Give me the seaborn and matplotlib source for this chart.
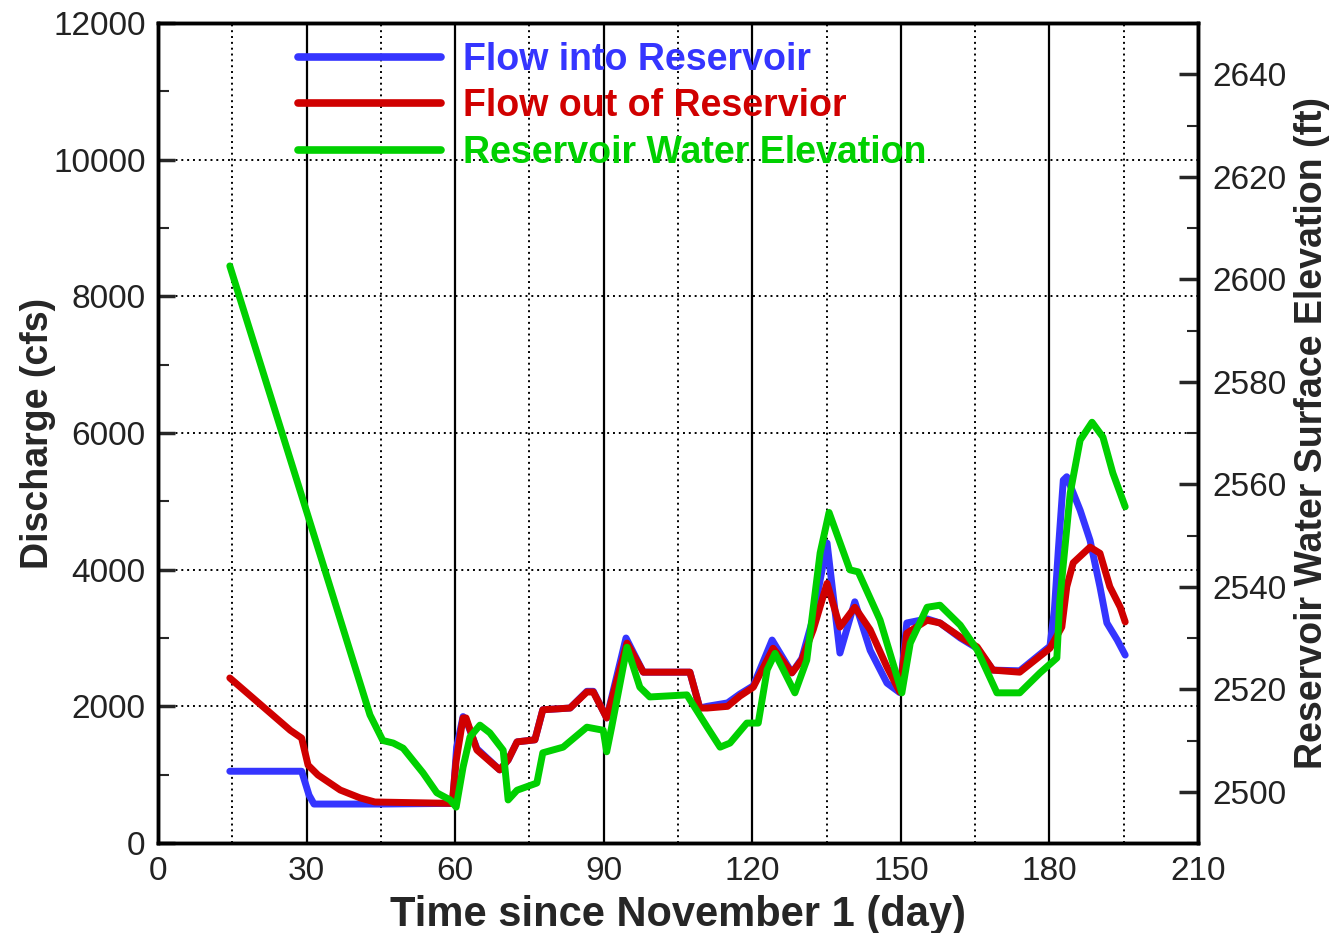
import numpy as np
import pandas as pd
import matplotlib
matplotlib.use("Agg")
import matplotlib.pyplot as plt
from matplotlib.ticker import MultipleLocator
import seaborn as sns

# ---------------- data ----------------
inflow_day = [14.5, 29, 30.5, 31.5, 45, 59.5, 60.3, 61.6, 62.2, 64.4, 69, 70.7, 72.5, 76.1,
              77.7, 83.2, 86.6, 87.9, 90.6, 94.5, 98, 107.4, 109.4, 110.9, 115, 117.5, 120.2,
              124.0, 128, 130, 132.3, 135.1, 137.7, 140.7, 143.8, 147.2, 149.8, 151.2, 155.3,
              157.9, 162, 165.4, 168.6, 174, 180.1, 181, 181.8, 182.8, 183.5, 186.2, 188.2,
              190.2, 191.6, 193.7, 195.3]
inflow_cfs = [1050, 1050, 700, 570, 570, 580, 1400, 1850, 1800, 1380, 1070, 1215, 1480, 1510,
              1950, 1975, 2220, 2220, 1830, 3000, 2500, 2500, 1975, 2000, 2050, 2180, 2300,
              2970, 2490, 2700, 3300, 4390, 2780, 3530, 2820, 2340, 2200, 3220, 3280,
              3220, 3000, 2850, 2530, 2520, 2880, 3410, 4290, 5310, 5360, 4870, 4430,
              3750, 3220, 2970, 2750]

outflow_day = [14.5, 26.7, 29, 30.3, 32.3, 36.8, 40.8, 43.8, 59.4, 60.2, 61.6, 62.2, 64.4, 69,
               70.7, 72.5, 76.1, 77.7, 83.2, 86.6, 87.9, 90.6, 94.7, 98, 107.4, 109.4, 110.9,
               115, 117.5, 120.2, 124.2, 128, 130, 132.3, 135.1, 137.7, 140.7, 143.8, 147.2,
               149.8, 151.2, 155.3, 157.9, 162, 165.4, 168.6, 174, 180.1, 182.5, 183.5, 184.8,
               188.2, 190.2, 192.2, 194.3, 195.3]
outflow_cfs = [2415, 1650, 1535, 1140, 995, 775, 660, 600, 580, 1200, 1830, 1830, 1360, 1070,
               1215, 1480, 1510, 1950, 1975, 2210, 2210, 1830, 2925, 2500, 2500, 1975, 1975,
               2000, 2150, 2280, 2850, 2490, 2680, 3120, 3800, 3160, 3450, 3120, 2575,
               2210, 3070, 3260, 3220, 3015, 2870, 2530, 2500, 2850, 3160, 3750, 4100,
               4330, 4240, 3750, 3450, 3235]

elev_day = [14.5, 30.1, 35.1, 38.8, 42.8, 45.4, 47.5, 49.5, 53.5, 56.3, 59, 60.2, 61.6, 63, 65,
            67, 69.7, 70.7, 72.5, 76.5, 77.7, 81.8, 86.6, 89.9, 90.6, 91.6, 94.7, 97.3, 99.3,
            106.8, 110.9, 113.5, 115.5, 118.9, 121.2, 123, 124.6, 128.6, 131, 133.7, 135.5,
            139.7, 141.4, 145.8, 150.2, 151.9, 155.3, 157.9, 162, 165.4, 169.4, 174, 178.1,
            181.5, 182.1, 184.2, 186.2, 188.6, 190.8, 192.8, 195.3]
elev_ft = [2602.6, 2554.4, 2538.9, 2527.4, 2515.0, 2510, 2509.5, 2508.5, 2503.7, 2499.8, 2498.4,
           2497, 2504.8, 2510.7, 2513, 2511.5, 2508.1, 2498.4, 2500.3, 2501.7, 2507.6, 2508.7,
           2512.6, 2512, 2507.8, 2512.6, 2528.2, 2520.4, 2518.5, 2518.9, 2512.6, 2508.7,
           2509.5, 2513.4, 2513.4, 2523.8, 2527, 2519.3, 2525.7, 2546.6, 2554.5, 2543.3,
           2542.9, 2533.5, 2519.3, 2529, 2536, 2536.4, 2532.5, 2527.7, 2519.3, 2519.3,
           2523.2, 2526.1, 2537.4, 2558.3, 2568.6, 2572.1, 2569.2, 2562.2, 2555.6]

labels = ["Flow into Reservoir", "Flow out of Reservior", "Reservoir Water Elevation"]
colors = ["#3535ff", "#d00000", "#00d000"]

# ---------------- style ----------------
sns.set_theme(style="white")
plt.rcParams["font.family"] = ["Liberation Sans", "DejaVu Sans"]
plt.rcParams["axes.edgecolor"] = "black"
plt.rcParams["axes.linewidth"] = 2.5

fig = plt.figure(figsize=(13.38, 9.33), dpi=100)
ax = fig.add_axes([158 / 1338, 90 / 933, 1040 / 1338, 820 / 933])
ax2 = ax.twinx()

lw = 5.0
df_in = pd.DataFrame({"day": inflow_day, "q": inflow_cfs})
df_out = pd.DataFrame({"day": outflow_day, "q": outflow_cfs})
df_el = pd.DataFrame({"day": elev_day, "z": elev_ft})

sns.lineplot(data=df_in, x="day", y="q", ax=ax, color=colors[0], lw=lw, sort=False,
             estimator=None, label=labels[0], zorder=3)
sns.lineplot(data=df_out, x="day", y="q", ax=ax, color=colors[1], lw=lw, sort=False,
             estimator=None, label=labels[1], zorder=4)
sns.lineplot(data=df_el, x="day", y="z", ax=ax2, color=colors[2], lw=lw, sort=False,
             estimator=None, label=labels[2], zorder=5)

ax.set_xlim(0, 210)
ax.set_ylim(0, 12000)
ax2.set_ylim(2490, 2650)

ax.xaxis.set_major_locator(MultipleLocator(30))
ax.xaxis.set_minor_locator(MultipleLocator(15))
ax.yaxis.set_major_locator(MultipleLocator(2000))
ax.yaxis.set_minor_locator(MultipleLocator(1000))
ax2.yaxis.set_major_locator(MultipleLocator(20))
ax2.yaxis.set_minor_locator(MultipleLocator(10))

# grid
ax.set_axisbelow(True)
ax.grid(which="major", axis="x", color="black", linestyle="-", linewidth=1.6)
ax.grid(which="minor", axis="x", color="black", linestyle=(0, (1, 2)), linewidth=1.4)
ax.grid(which="major", axis="y", color="black", linestyle=(0, (1, 2)), linewidth=1.4)

tick_fs = 24
ax.tick_params(axis="both", which="major", direction="in", length=12, width=2.5,
               labelsize=tick_fs, labelcolor="#222222", pad=9)
ax.tick_params(axis="both", which="minor", direction="in", length=8, width=1.5)
ax.tick_params(axis="x", which="both", top=False)
ax.tick_params(axis="y", which="both", right=False)
ax2.tick_params(axis="y", which="major", direction="in", length=14, width=2.5,
                labelsize=tick_fs, labelcolor="#222222", pad=10)
ax2.tick_params(axis="y", which="minor", direction="in", length=8, width=1.5)

ax.set_xlabel("Time since November 1 (day)", fontsize=30, fontweight="bold", labelpad=6)
ax.set_ylabel("Discharge (cfs)", fontsize=27, fontweight="bold", labelpad=-2)
ax2.set_ylabel("Reservoir Water Surface Elevation (ft)", fontsize=27, fontweight="bold",
               labelpad=6)

for s in ax.spines.values():
    s.set_linewidth(2.5)
for s in ax2.spines.values():
    s.set_linewidth(2.5)

# legend
h1, l1 = ax.get_legend_handles_labels()
h2, l2 = ax2.get_legend_handles_labels()
if ax2.get_legend() is not None:
    ax2.get_legend().remove()
if ax.get_legend() is not None:
    ax.get_legend().remove()
leg = ax2.legend(h1 + h2, l1 + l2, loc="upper left", bbox_to_anchor=(0.135, 0.977),
                 frameon=False, handlelength=3.8, handletextpad=0.6,
                 labelspacing=0.28, borderaxespad=0, borderpad=0,
                 prop={"weight": "bold", "size": 27})
for txt, c in zip(leg.get_texts(), colors):
    txt.set_color(c)
for ln in leg.get_lines():
    ln.set_linewidth(5.5)

fig.savefig("out.png", dpi=100)
